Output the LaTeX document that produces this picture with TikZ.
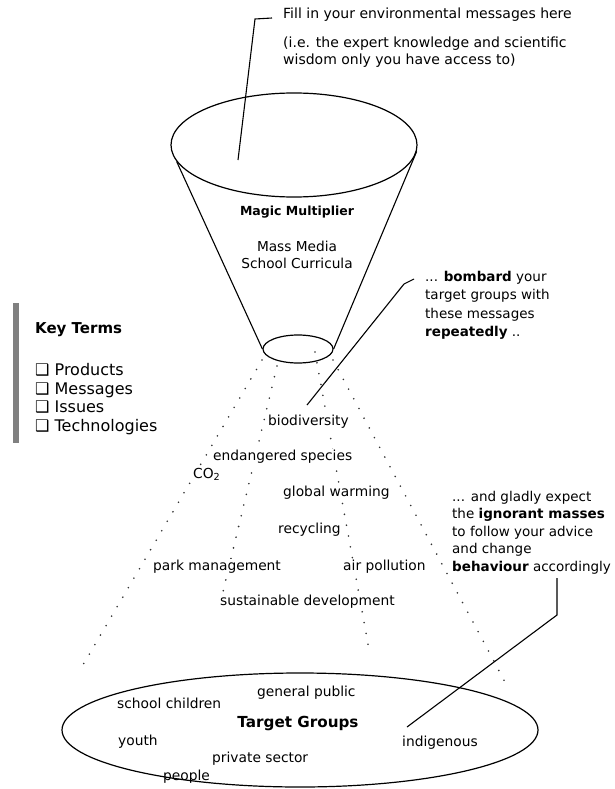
\documentclass[tikz,border=0pt]{standalone}
\usepackage{fontspec}
\setmainfont{DejaVu Sans}
\usetikzlibrary{shapes.geometric}
\begin{document}
\begin{tikzpicture}[x=1pt,y=-1pt,
  wordf/.style={font=\fontsize{13.8}{16}\selectfont},
  word/.style={wordf, anchor=west, inner sep=1pt, fill=white},
  lbl/.style={anchor=north west, inner sep=0pt, align=left},
  dotline/.style={line width=1.8pt, line cap=round, dash pattern=on 0pt off 11pt, black!80},
  fline/.style={line width=1.1pt},
  ell/.style={draw, ellipse, line width=1.2pt, inner sep=0pt},
]
\useasboundingbox (0,0) rectangle (614,789);

% dotted spray
\coordinate (d1s) at (262,360); \coordinate (d1e) at (80,670);
\coordinate (d2s) at (277,366); \coordinate (d2e) at (222,596);
\coordinate (d3s) at (333,360); \coordinate (d3e) at (505,682);
\coordinate (d4s) at (315,352); \coordinate (d4e) at (370,655);
\draw[dotline] (d1s) -- (d1e);
\draw[dotline] (d2s) -- (d2e);
\draw[dotline] (d3s) -- (d3e);
\draw[dotline] (d4s) -- (d4e);

% funnel
\node[ell, minimum width=246pt, minimum height=104pt] (top) at (294,145) {};
\node[ell, minimum width=70pt, minimum height=28pt] (neck) at (298,349) {};
\draw[fline] (top.188) -- (neck.west);
\draw[fline] (top.357) -- (neck.east);

\node[inner sep=0pt, font=\bfseries\fontsize{12.5}{15}\selectfont] (magic) at (297,212) {Magic Multiplier};
\node[inner sep=0pt, align=center, font=\fontsize{13.7}{17}\selectfont] (media) at (297,255) {Mass Media\\School Curricula};

% top label
\node[anchor=west, inner sep=0pt, font=\fontsize{14}{17}\selectfont] (fill) at (283,15) {Fill in your environmental messages here};
\node[lbl, font=\fontsize{14}{17}\selectfont] (ie) at (283,37) {(i.e. the expert knowledge and scientific\\wisdom only you have access to)};
\coordinate (t1) at (238,160); \coordinate (t2) at (255,19); \coordinate (t3) at (272,18);
\draw[fline] (t1) -- (t2) -- (t3);

% bombard label
\node[lbl, font=\fontsize{13.5}{18.5}\selectfont] (bomb) at (425,271) {... \textbf{bombard} your\\target groups with\\these messages\\\textbf{repeatedly} ..};
\coordinate (b1) at (307,405); \coordinate (b2) at (404,284); \coordinate (b3) at (414,279);
\draw[fline] (b1) -- (b2) -- (b3);

% key terms
\fill[black!50] (13,303) rectangle (19,443);
\node[anchor=west, inner sep=0pt, font=\bfseries\fontsize{15}{18}\selectfont] (kt) at (35,330) {Key Terms};
\node[lbl, font=\fontsize{16}{18.7}\selectfont] (items) at (35,363) {❑ Products\\❑ Messages\\❑ Issues\\❑ Technologies};

% words
\node[word] (bio) at (267,422) {biodiversity};
\node[word] (endg) at (212,457) {endangered species};
\node[word] (co2) at (192,474) {CO\textsubscript{2}};
\node[word] (glob) at (282,493) {global warming};
\node[word] (recy) at (277,530) {recycling};
\node[word] (park) at (152,567) {park management};
\node[word] (air) at (342,567) {air pollution};
\node[word] (sust) at (219,602) {sustainable development};

% gladly label
\node[lbl, font=\fontsize{13.5}{17.5}\selectfont] (glad) at (452,491) {... and gladly expect\\the \textbf{ignorant masses}\\to follow your advice\\and change\\\textbf{behaviour} accordingly};
\coordinate (g1) at (557,578); \coordinate (g2) at (557,615); \coordinate (g3) at (407,727);
\draw[fline] (g1) -- (g2) -- (g3);

% target groups
\node[ell, minimum width=476pt, minimum height=114pt] (tg) at (300,730) {};
\node[inner sep=0pt, font=\bfseries\fontsize{15.2}{18}\selectfont] (tgl) at (298,723) {Target Groups};
\node[word, fill=none] (pub) at (256,693) {general public};
\node[word, fill=none] (school) at (116,703) {school children};
\node[word, fill=none] (youth) at (117,742) {youth};
\node[word, fill=none] (priv) at (211,759) {private sector};
\node[word, fill=none] (people) at (162,777) {people};
\node[word, fill=none] (indig) at (401,743) {indigenous};
\end{tikzpicture}
\end{document}
